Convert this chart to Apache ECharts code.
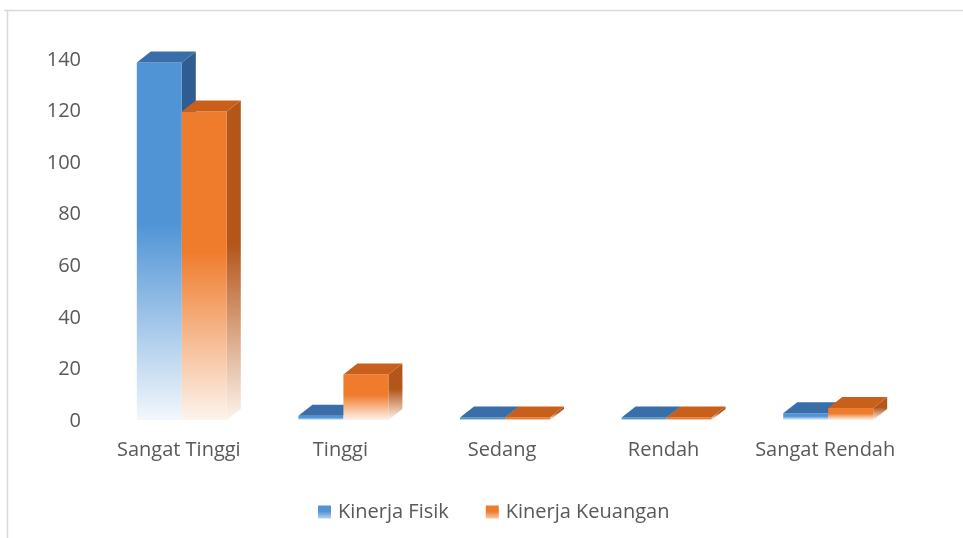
<!DOCTYPE html>
<html>
<head>
<meta charset="utf-8">
<script src="https://cdn.jsdelivr.net/npm/echarts@6/dist/echarts.min.js"></script>
<style>html,body{margin:0;padding:0;background:#fff;}#chart{width:963px;height:538px;}</style>
</head>
<body>
<div id="chart"></div>
<script>
const categories = ['Sangat Tinggi', 'Tinggi', 'Sedang', 'Rendah', 'Sangat Rendah'];
const kinerjaFisik = [139, 2, 0, 1, 3];
const kinerjaKeuangan = [120, 18, 0, 1, 5];
const seriesNames = ['Kinerja Fisik', 'Kinerja Keuangan'];
const yTicks = [0, 20, 40, 60, 80, 100, 120, 140];

const palettes = [
  { front: '#5094d6', top: '#3a6ea8', side: '#2f5d92', light: '#f3f7fc' },
  { front: '#ef7b2c', top: '#c8601c', side: '#b3561a', light: '#fdf4ec' }
];
const BAR_W = 45, DX = 14, DY = 11;

function grad(c1, c2) {
  return new echarts.graphic.LinearGradient(0, 0, 0, 1, [
    { offset: 0, color: c1 }, { offset: 0.45, color: c1 }, { offset: 1, color: c2 }
  ]);
}

function makeRender(si) {
  const p = palettes[si];
  return function (params, api) {
    const i = api.value(0), v = api.value(1);
    const base = api.coord([i, 0]);
    const top = api.coord([i, v]);
    const split = base[0] + 3;
    const x0 = si === 0 ? split - BAR_W : split;
    const x1 = x0 + BAR_W;
    const yb = base[1] - 1;
    const yt = Math.min(top[1], yb - 2.5);
    return {
      type: 'group',
      children: [
        { type: 'polygon', shape: { points: [[x1, yt], [x1 + DX, yt - DY], [x1 + DX, yb - DY], [x1, yb]] },
          style: { fill: grad(p.side, p.light) } },
        { type: 'rect', shape: { x: x0, y: yt, width: BAR_W, height: yb - yt },
          style: { fill: grad(p.front, p.light) } },
        { type: 'polygon', shape: { points: [[x0, yt], [x0 + DX, yt - DY], [x1 + DX, yt - DY], [x1, yt]] },
          style: { fill: p.top } }
      ]
    };
  };
}

const chart = echarts.init(document.getElementById('chart'));
const fontFam = 'Open Sans';
chart.setOption({
  animation: false,
  textStyle: { fontFamily: fontFam },
  grid: { left: 98, right: 57, top: 60, bottom: 117 },
  xAxis: {
    type: 'category', data: categories,
    axisLine: { show: false }, axisTick: { show: false },
    axisLabel: { color: '#595959', fontSize: 20, margin: 19, interval: 0, fontFamily: fontFam }
  },
  yAxis: {
    type: 'value', min: 0, max: 140, interval: 20,
    splitLine: { show: false }, axisLine: { show: false }, axisTick: { show: false },
    axisLabel: { color: '#595959', fontSize: 20, margin: 17, fontFamily: fontFam,
      formatter: function (val) { return yTicks.indexOf(val) >= 0 ? String(val) : ''; } }
  },
  legend: {
    top: 497, left: 313, itemWidth: 13, itemHeight: 13, itemGap: 37, icon: 'rect',
    textStyle: { color: '#595959', fontSize: 20, fontFamily: fontFam, padding: [0, 0, 0, 2] },
    data: seriesNames
  },
  graphic: [
    { type: 'line', shape: { x1: 4, y1: 10.5, x2: 963, y2: 10.5 }, style: { stroke: '#d9d9d9', lineWidth: 1.5 } },
    { type: 'line', shape: { x1: 7.5, y1: 10, x2: 7.5, y2: 538 }, style: { stroke: '#d9d9d9', lineWidth: 1.5 } }
  ],
  series: [
    { type: 'custom', name: seriesNames[0], renderItem: makeRender(0),
      itemStyle: { color: grad(palettes[0].front, '#b9d3ee') },
      encode: { x: 0, y: 1 },
      data: kinerjaFisik.map((v, i) => [i, v]) },
    { type: 'custom', name: seriesNames[1], renderItem: makeRender(1),
      itemStyle: { color: grad(palettes[1].front, '#f8c9a6') },
      encode: { x: 0, y: 1 },
      data: kinerjaKeuangan.map((v, i) => [i, v]) }
  ]
});
</script>
</body>
</html>
